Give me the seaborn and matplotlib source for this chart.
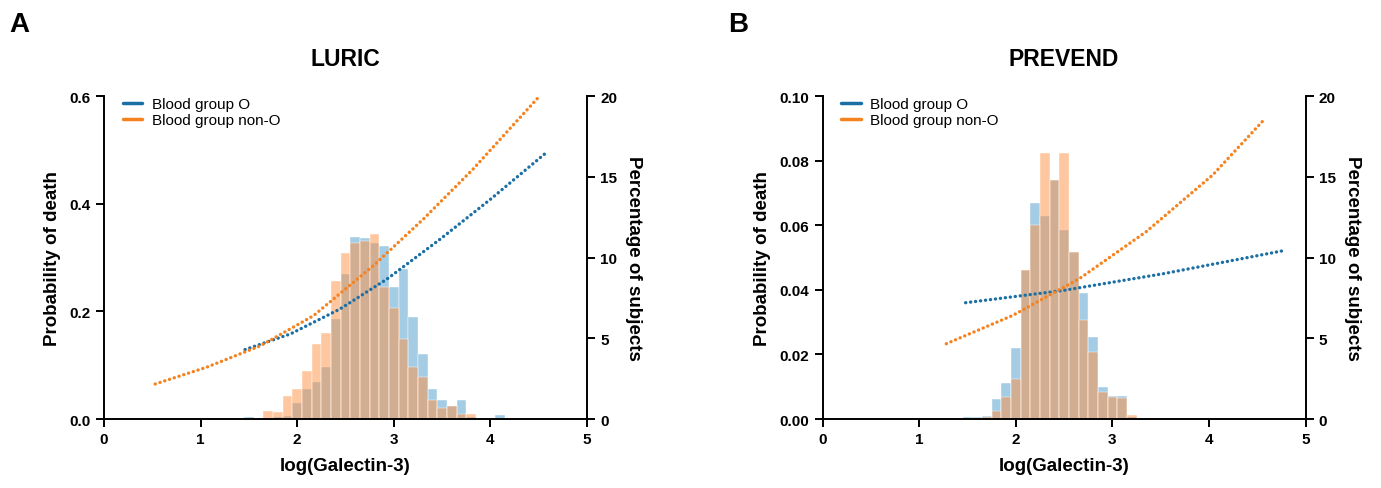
import numpy as np
import pandas as pd
import matplotlib.pyplot as plt
import seaborn as sns
from matplotlib.lines import Line2D

# histogram bin centres (log Galectin-3, width 0.1) and % of subjects
luric_bins = [1.5, 1.6, 1.7, 1.8, 1.9, 2.0, 2.1, 2.2, 2.3, 2.4, 2.5, 2.6, 2.7, 2.8,
              2.9, 3.0, 3.1, 3.2, 3.3, 3.4, 3.5, 3.6, 3.7, 3.8, 3.9, 4.0, 4.1]
luric_pct_o = [0.15, 0, 0, 0.1, 0.2, 1.0, 1.85, 2.3, 3.2, 6.2, 9.0, 11.3, 11.2, 10.9,
               10.7, 8.15, 9.3, 6.3, 4.0, 1.85, 1.15, 0.8, 1.15, 0.1, 0, 0, 0.25]
luric_pct_nono = [0, 0.05, 0.52, 0.45, 1.45, 1.85, 3.0, 4.65, 5.35, 8.55, 10.3, 10.9, 11.0, 11.45,
                  8.2, 6.9, 4.95, 3.2, 2.6, 1.15, 0.7, 0.8, 0.3, 0.3, 0, 0, 0]

prevend_bins = [1.5, 1.6, 1.7, 1.8, 1.9, 2.0, 2.1, 2.2, 2.3, 2.4, 2.5, 2.6, 2.7, 2.8,
                2.9, 3.0, 3.1, 3.2, 3.3]
prevend_pct_o = [0.1, 0.15, 0.2, 1.25, 2.2, 4.4, 9.2, 13.35, 12.6, 14.8, 11.7, 10.35, 7.8, 5.05,
                 2.0, 1.4, 1.4, 0.1, 0.05]
prevend_pct_nono = [0, 0.05, 0.1, 0.5, 1.35, 2.5, 9.2, 12.0, 16.5, 14.8, 16.45, 10.35, 6.1, 4.15,
                    1.7, 1.35, 1.3, 0.25, 0.05]

# predicted probability of death
luric_o_x = [1.46, 1.93, 2.44, 2.93, 3.48, 4.0, 4.58]
luric_o_y = [0.129, 0.158, 0.204, 0.260, 0.334, 0.408, 0.495]
luric_nono_x = [0.53, 1.06, 1.62, 2.17, 2.79, 3.31, 3.82, 4.51]
luric_nono_y = [0.065, 0.096, 0.136, 0.192, 0.285, 0.372, 0.464, 0.600]

prevend_o_x = [1.48, 2.49, 3.53, 4.75]
prevend_o_y = [0.0360, 0.0398, 0.0450, 0.0520]
prevend_nono_x = [1.28, 1.97, 2.66, 3.35, 4.04, 4.58]
prevend_nono_y = [0.0233, 0.0321, 0.0435, 0.0580, 0.0756, 0.0930]

x_ticks = [0, 1, 2, 3, 4, 5]
pct_ticks = [0, 5, 10, 15, 20]

BLUE_LINE = "#1b6fa5"
ORANGE_LINE = "#f5821f"
BLUE_BAR = "#3790c7"
ORANGE_BAR = "#ff9141"

sns.set_style("ticks")
plt.rcParams['font.family'] = ['Liberation Sans', 'DejaVu Sans']
plt.rcParams.update({"text.color": "black", "axes.labelcolor": "black",
                     "xtick.color": "black", "ytick.color": "black",
                     "axes.edgecolor": "black"})


def draw_panel(ax, bins, pct_o, pct_nono, lo_x, lo_y, ln_x, ln_y, ymax, yticks, yfmt, title):
    ax2 = ax.twinx()
    hist = pd.DataFrame({"x": bins, "o": pct_o, "nono": pct_nono})
    brange = (min(bins) - 0.05, max(bins) + 0.05)
    sns.histplot(data=hist, x="x", weights="o", binwidth=0.1, binrange=brange, ax=ax2,
                 color=BLUE_BAR, alpha=0.45, edgecolor="white", linewidth=0.3)
    sns.histplot(data=hist, x="x", weights="nono", binwidth=0.1, binrange=brange, ax=ax2,
                 color=ORANGE_BAR, alpha=0.5, edgecolor="white", linewidth=0.3)

    dots = (0, (0.05, 1.45))
    for xs, ys, c in ((lo_x, lo_y, BLUE_LINE), (ln_x, ln_y, ORANGE_LINE)):
        sns.lineplot(x=xs, y=ys, ax=ax, color=c, lw=2.4, linestyle=dots,
                     dash_capstyle="round")

    ax.set_zorder(ax2.get_zorder() + 1)
    ax.patch.set_visible(False)

    ax.set_xlim(0, 5)
    ax.set_ylim(0, ymax)
    ax2.set_ylim(0, 20)
    ax.set_xticks(x_ticks)
    ax.set_yticks(yticks)
    ax.set_yticklabels([yfmt.format(v) for v in yticks])
    ax2.set_yticks(pct_ticks)

    for a in (ax, ax2):
        a.tick_params(direction="out", length=6, width=1.4, labelsize=11)
        for lab in a.get_xticklabels() + a.get_yticklabels():
            lab.set_fontweight("bold")
        for s in a.spines.values():
            s.set_linewidth(1.4)
    ax.spines["top"].set_visible(False)
    ax.spines["right"].set_visible(False)
    ax2.spines["top"].set_visible(False)
    ax2.spines["left"].set_visible(False)
    ax2.spines["bottom"].set_visible(False)

    ax.set_xlabel("log(Galectin-3)", fontsize=13.5, fontweight="bold", labelpad=8)
    ax.set_ylabel("Probability of death", fontsize=13.5, fontweight="bold", labelpad=6)
    ax2.set_ylabel("Percentage of subjects", fontsize=13.5, fontweight="bold",
                   rotation=270, labelpad=18)
    ax.set_title(title, fontsize=16.5, fontweight="bold", pad=22)

    handles = [Line2D([], [], color=BLUE_LINE, lw=2.5),
               Line2D([], [], color=ORANGE_LINE, lw=2.5)]
    ax.legend(handles, ["Blood group O", "Blood group non-O"], loc="upper left",
              bbox_to_anchor=(0.01, 1.04), frameon=False, fontsize=11,
              handlelength=1.3, handletextpad=0.6, labelspacing=0.15)
    return ax2


fig = plt.figure(figsize=(13.81, 4.89), dpi=100)
ax_a = fig.add_axes([0.0753, 0.1411, 0.3497, 0.6605])
ax_b = fig.add_axes([0.5957, 0.1411, 0.3497, 0.6605])

draw_panel(ax_a, luric_bins, luric_pct_o, luric_pct_nono,
           luric_o_x, luric_o_y, luric_nono_x, luric_nono_y,
           0.6, [0.0, 0.2, 0.4, 0.6], "{:.1f}", "LURIC")
draw_panel(ax_b, prevend_bins, prevend_pct_o, prevend_pct_nono,
           prevend_o_x, prevend_o_y, prevend_nono_x, prevend_nono_y,
           0.10, [0.00, 0.02, 0.04, 0.06, 0.08, 0.10], "{:.2f}", "PREVEND")

fig.text(0.0065, 0.948, "A", fontsize=20, fontweight="bold", va="center")
fig.text(0.527, 0.948, "B", fontsize=20, fontweight="bold", va="center")

fig.savefig("out.png", dpi=100)
